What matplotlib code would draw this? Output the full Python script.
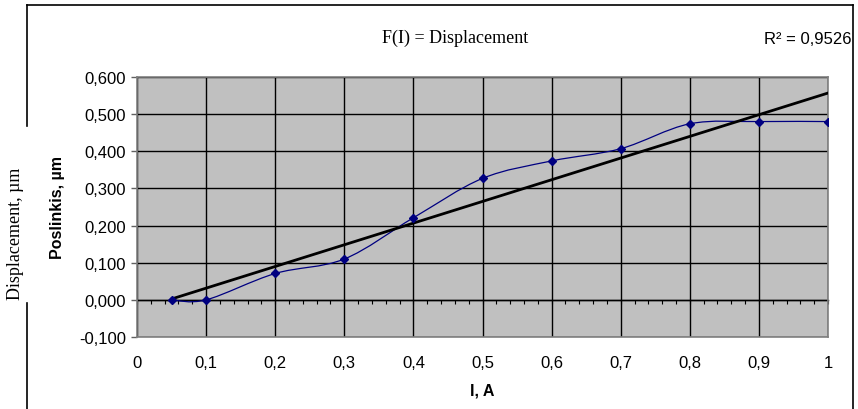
import numpy as np
import matplotlib
matplotlib.use('Agg')
import matplotlib.pyplot as plt
from matplotlib.path import Path
from matplotlib.patches import PathPatch
from matplotlib.lines import Line2D
from matplotlib.ticker import MultipleLocator, FuncFormatter

# Data
current = [0.05, 0.1, 0.2, 0.3, 0.4, 0.5, 0.6, 0.7, 0.8, 0.9, 1.0]
displacement = [0.0, 0.0, 0.071, 0.110, 0.221, 0.327, 0.374, 0.407, 0.474, 0.480, 0.480]
r2_text = 'R² = 0,9526'
title_text = 'F(I) = Displacement'

x = np.array(current)
y = np.array(displacement)


def comma(v, pos):
    return ('%.3f' % v).replace('.', ',')


def comma_x(v, pos):
    s = ('%.1f' % v).replace('.', ',')
    if s.endswith(',0'):
        s = s[:-2]
    return s


def smooth_path(xs, ys):
    """Excel style smoothed line: cubic Bezier through every point."""
    pts = np.column_stack([xs, ys])
    n = len(pts)
    verts = [pts[0]]
    codes = [Path.MOVETO]
    for i in range(n - 1):
        p0 = pts[max(i - 1, 0)]
        p1 = pts[i]
        p2 = pts[i + 1]
        p3 = pts[min(i + 2, n - 1)]
        c1 = p1 + (p2 - p0) / 6.0
        c2 = p2 - (p3 - p1) / 6.0
        verts += [c1, c2, p2]
        codes += [Path.CURVE4] * 3
    return Path(verts, codes)


fig = plt.figure(figsize=(8.58, 4.10), dpi=100)
ax = fig.add_axes([137 / 858, 1 - 338 / 410, 691 / 858, 260 / 410])

ax.set_facecolor('#c0c0c0')
ax.set_xlim(0, 1)
ax.set_ylim(-0.1, 0.6)
ax.xaxis.set_major_locator(MultipleLocator(0.1))
ax.yaxis.set_major_locator(MultipleLocator(0.1))
ax.xaxis.set_major_formatter(FuncFormatter(comma_x))
ax.yaxis.set_major_formatter(FuncFormatter(comma))
ax.grid(True, color='black', linewidth=1.0, zorder=0)
ax.set_axisbelow(True)

for side in ['top', 'right', 'bottom', 'left']:
    ax.spines[side].set_color('#808080')
    ax.spines[side].set_linewidth(1.2)

ax.tick_params(axis='x', length=0, pad=13, labelsize=12)
ax.tick_params(axis='y', length=4, width=1, color='#606060', pad=4, labelsize=12)
for lab in ax.get_xticklabels() + ax.get_yticklabels():
    lab.set_fontfamily('Liberation Sans')

# the category axis crosses at zero
sec = ax.secondary_xaxis(0.1 / 0.7)
sec.spines['bottom'].set_color('black')
sec.spines['top'].set_color('black')
sec.spines['bottom'].set_linewidth(1.0)
sec.xaxis.set_major_locator(MultipleLocator(0.1))
sec.xaxis.set_minor_locator(MultipleLocator(0.02))
sec.tick_params(which='both', direction='out', length=3, width=0.8,
                labelbottom=False, color='black')

# smoothed data line
patch = PathPatch(smooth_path(x, y), facecolor='none', edgecolor='#000080',
                  linewidth=0.9, transform=ax.transData, zorder=3)
ax.add_patch(patch)
ax.plot(x, y, linestyle='none', marker='D', markersize=4.2,
        color='#000080', zorder=4)

# linear trend line
slope, intercept = np.polyfit(x, y, 1)
xt = np.array([x.min(), x.max()])
ax.plot(xt, slope * xt + intercept, color='black', linewidth=2.0, zorder=3)

ax.set_xlabel('I, A', fontsize=11.5, fontweight='bold',
              fontfamily='Liberation Sans', labelpad=9)
ax.set_ylabel('Poslinkis, µm', fontsize=11.5, fontweight='bold',
              fontfamily='Liberation Sans', labelpad=10)

# title and R2 text
fig.text(455 / 858, 1 - 38 / 410, title_text, ha='center', va='center',
         fontsize=13, fontfamily='Liberation Serif')
fig.text(852 / 858, 1 - 39 / 410, r2_text, ha='right', va='center',
         fontsize=12, fontfamily='Liberation Sans')

# outer chart border (left side broken by the second label box)
border = dict(color='black', linewidth=1.2, transform=fig.transFigure)
fig.add_artist(Line2D([27 / 858, 853 / 858], [1 - 6 / 410, 1 - 6 / 410], **border))
fig.add_artist(Line2D([853 / 858, 853 / 858], [1 - 6 / 410, 0], **border))
fig.add_artist(Line2D([27 / 858, 27 / 858], [1 - 6 / 410, 1 - 127 / 410], **border))
fig.add_artist(Line2D([27 / 858, 27 / 858], [1 - 304 / 410, 0], **border))

fig.text(16 / 858, 1 - 234 / 410, 'Displacement, µm', rotation=90,
         ha='center', va='center', fontsize=13, fontfamily='Liberation Serif')

fig.savefig('out.png', dpi=100)
